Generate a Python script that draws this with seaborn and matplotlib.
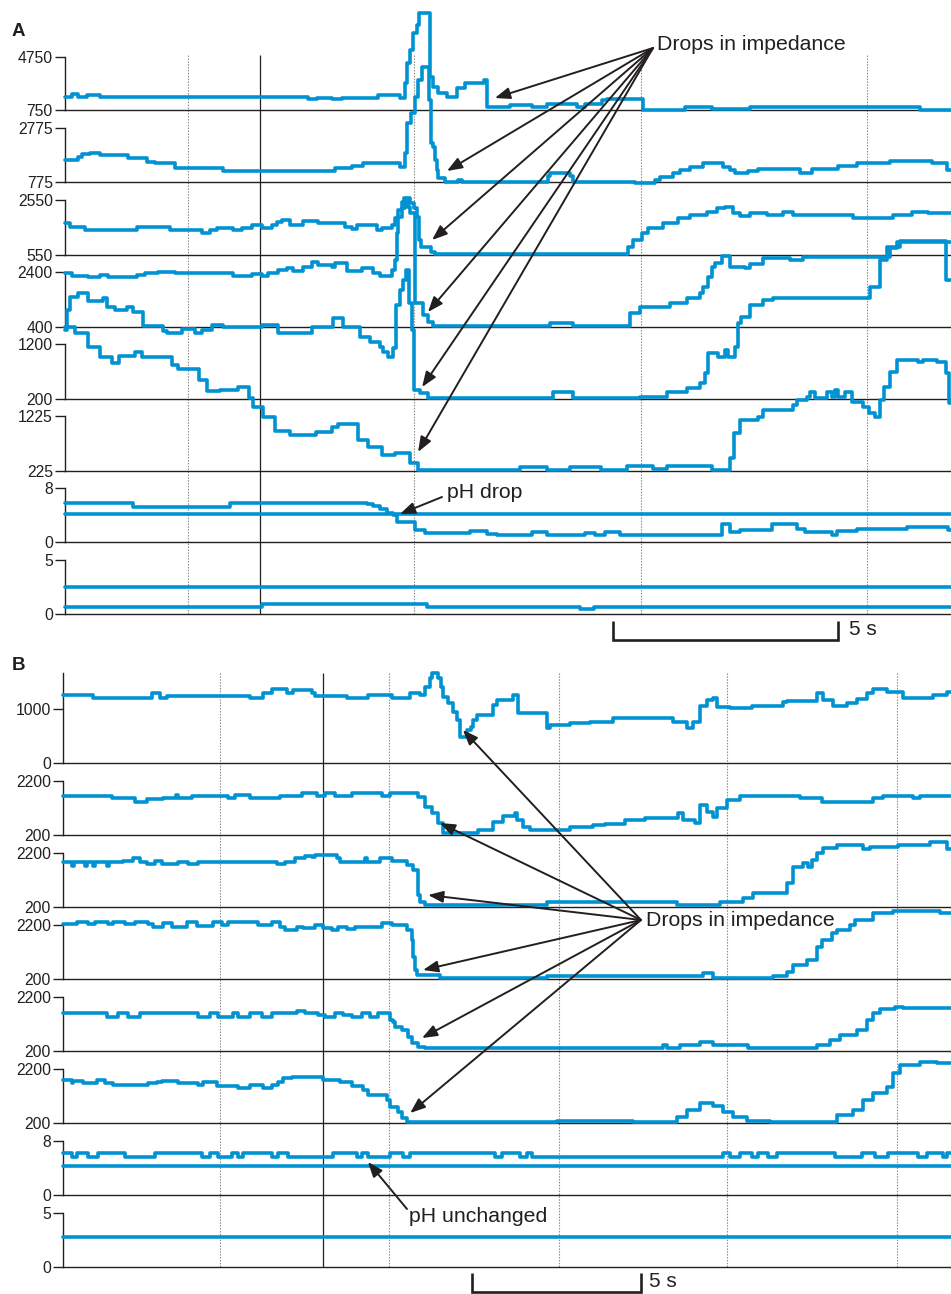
import matplotlib
matplotlib.use("Agg")
import matplotlib.pyplot as plt
import seaborn as sns
import pandas as pd

# ------------------------------------------------------------------
# DATA  (time in s, impedance in ohm, pH)
# ------------------------------------------------------------------
# Panel A
A1 = [(0,1730),(0.15,1960),(0.29,1730),(0.49,1880),(0.77,1730),(5.38,1580),(5.58,1660),(5.91,1580),
      (6.13,1660),(6.92,1880),(7.41,1660),(7.52,2790),(7.57,4300),(7.63,5280),(7.70,6560),(7.79,7170),
      (7.83,8070),(8.08,3240),(8.14,2490),(8.25,2030),(8.45,1730),(8.67,2410),(8.85,2790),(9.27,3020),
      (9.34,980),(9.85,1130),(10.33,980),(10.66,1200),(11.33,980),(11.5,1200),(11.88,1500),(11.99,1580),
      (12.79,750),(13.72,980),(14.31,830),(15.15,980),(18.92,750),(19.6,750)]
A2 = [(0,1590),(0.29,1700),(0.38,1810),(0.55,1850),(0.77,1770),(1.39,1660),(1.81,1520),(1.99,1480),
      (2.43,1290),(3.5,1180),(5.97,1290),(6.35,1370),(6.59,1480),(7.41,1330),(7.52,1850),(7.57,2960),
      (7.65,3330),(7.74,3920),(7.81,4550),(7.90,5030),(8.05,3810),(8.10,2220),(8.14,2070),(8.19,1590),
      (8.23,1220),(8.25,920),(8.41,790),(8.69,850),(8.78,790),(10.69,1000),(10.73,1110),(11.17,1000),
      (11.24,790),(12.61,720),(13.05,850),(13.16,960),(13.45,1110),(13.61,1220),(13.83,1330),(14.12,1480),
      (14.56,1330),(14.71,1220),(14.82,1110),(15.11,1180),(15.33,1260),(16.26,1110),(16.53,1260),
      (17.1,1370),(17.52,1480),(18.25,1550),(19.18,1480),(19.51,1220),(19.6,1220)]
A3 = [(0,1715),(0.11,1570),(0.44,1460),(1.59,1570),(2.32,1460),(3.03,1350),(3.21,1460),(3.36,1530),
      (3.72,1460),(3.92,1530),(4.14,1640),(4.36,1530),(4.58,1640),(4.69,1750),(4.8,1820),(4.98,1640),
      (5.27,1790),(5.6,1715),(6.19,1570),(6.35,1500),(6.46,1640),(6.9,1460),(7.01,1530),(7.23,1640),
      (7.3,1900),(7.37,2190),(7.46,2480),(7.5,2625),(7.63,2440),(7.72,2260),(7.79,1930),(7.83,1100),
      (7.88,840),(8.1,660),(8.19,570),(12.46,840),(12.57,1100),(12.77,1350),(12.9,1530),(13.23,1715),
      (13.56,1900),(13.83,2006),(14.2,2115),(14.42,2260),(14.6,2300),(14.78,2080),(14.93,1970),
      (15.15,2080),(15.53,2006),(15.88,2115),(16.11,2006),(17.43,1900),(18.32,2006),(18.74,2115),
      (19.09,2080),(19.6,2080)]
A4 = [(0,2366),(0.15,2256),(0.51,2220),(0.77,2293),(0.95,2220),(1.59,2293),(1.77,2366),(2.06,2402),
      (2.43,2366),(3.72,2256),(4.14,2329),(4.36,2256),(4.49,2366),(4.71,2475),(4.91,2548),(5.04,2438),
      (5.27,2584),(5.46,2766),(5.6,2657),(5.91,2584),(5.97,2730),(6.24,2438),(6.57,2548),(6.81,2366),
      (6.97,2256),(7.23,2475),(7.3,2839),(7.35,3822),(7.37,4404),(7.46,4732),(7.52,5023),(7.59,4768),
      (7.63,4550),(7.75,1274),(7.92,837),(8.03,582),(8.14,420),(10.73,546),(11.24,420),(12.5,910),
      (12.72,1128),(13.38,1274),(13.76,1456),(14.05,1638),(14.12,1856),(14.23,2220),(14.31,2584),
      (14.38,2730),(14.54,2990),(14.71,2584),(15.04,2548),(15.15,2693),(15.44,2912),(16.04,2839),
      (16.33,2948),(18.25,3276),(18.41,3494),(19.6,3494)]
A5 = [(0,1456),(0.04,1820),(0.11,2056),(0.29,2129),(0.51,1984),(0.84,2038),(0.93,1874),(1.11,1820),
      (1.37,1874),(1.5,1783),(1.73,1529),(2.17,1438),(2.26,1401),(2.59,1474),(2.88,1401),(3.03,1456),
      (3.25,1547),(3.5,1510),(4.36,1547),(4.71,1401),(5.46,1510),(5.93,1674),(6.15,1510),(6.53,1328),
      (6.75,1237),(6.97,1146),(7.04,1055),(7.15,964),(7.26,1128),(7.32,1911),(7.41,2184),(7.48,2366),
      (7.54,2548),(7.61,1947),(7.68,1456),(7.72,364),(7.85,309),(8.03,218),(8.14,215),(10.8,327),
      (11.24,215),(12.72,236),(13.32,327),(13.76,400),(14.05,491),(14.16,673),(14.23,1037),(14.45,964),
      (14.6,1092),(14.67,964),(14.82,1146),(14.89,1583),(14.96,1692),(15.15,1911),(15.44,2002),
      (15.66,2038),(17.81,2238),(18.03,2730),(18.19,2966),(18.47,3076),(19.49,2366),(19.6,2366)]
A6 = [(0,2846),(0.22,2737),(0.51,2482),(0.77,2300),(1.04,2191),(1.19,2318),(1.55,2391),(1.7,2300),
      (2.37,2154),(2.5,2081),(2.96,1881),(3.14,1681),(3.43,1699),(3.83,1754),(4.07,1554),(4.16,1390),
      (4.38,1208),(4.65,953),(4.98,880),(5.55,935),(5.91,1026),(6.04,1080),(6.48,789),(6.7,662),
      (7.01,516),(7.3,553),(7.63,371),(7.81,235),(8.41,243),(10.07,298),(10.66,243),(11.17,298),
      (11.86,243),(12.43,316),(13.01,261),(13.32,316),(14.31,243),(14.71,462),(14.8,917),(14.93,1153),
      (15.33,1208),(15.44,1335),(16.11,1426),(16.19,1517),(16.42,1572),(16.48,1663),(16.59,1554),
      (16.86,1663),(16.97,1572),(17.04,1699),(17.1,1572),(17.26,1663),(17.41,1481),(17.65,1390),
      (17.79,1281),(17.92,1208),(18.03,1517),(18.12,1754),(18.25,2027),(18.41,2245),(18.87,2209),
      (18.98,2245),(19.29,2209),(19.49,2009),(19.56,1463),(19.6,1463)]
A7_ph1 = [(0,5.78),(1.5,5.19),(3.65,5.78),(6.68,5.6),(6.81,5.3),(6.97,4.9),(7.12,4.3),(7.26,4.0),
          (7.35,2.96),(7.74,1.78),(7.96,1.33),(8.96,1.63),(9.34,1.19),(9.56,1.04),(10.33,1.48),
          (10.66,1.04),(11.5,1.33),(11.73,1.04),(11.95,1.48),(12.28,1.04),(14.54,2.67),(14.71,1.48),
          (14.93,1.78),(15.64,2.67),(16.19,1.93),(16.37,1.48),(16.97,1.04),(17.08,1.63),(17.52,1.93),
          (18.63,2.22),(19.54,1.78),(19.6,1.78)]
A7_ph2 = [(0,4.15),(19.6,4.15)]
A8_1 = [(0,2.5),(19.6,2.5)]
A8_2 = [(0,0.65),(4.36,0.9),(8.0,0.65),(11.4,0.5),(11.7,0.65),(19.6,0.65)]

# Panel B
B1 = [(0,1260),(0.89,1200),(2.63,1300),(2.87,1200),(3.08,1240),(5.53,1200),(5.92,1300),(6.18,1370),
      (6.63,1300),(6.8,1350),(7.37,1300),(7.46,1240),(8.4,1200),(9.02,1260),(9.73,1200),(10.27,1300),
      (10.56,1260),(10.71,1400),(10.86,1570),(10.92,1665),(11.09,1570),(11.18,1400),(11.24,1220),
      (11.39,1110),(11.54,940),(11.66,800),(11.75,480),(11.95,610),(12.07,670),(12.13,800),(12.25,890),
      (12.72,1070),(12.84,1170),(13.31,1260),(13.46,930),(14.32,650),(14.41,700),(15.0,740),(15.59,760),
      (16.27,830),(18.05,760),(18.46,650),(18.64,760),(18.85,1050),(19.05,1170),(19.23,1200),
      (19.35,1040),(19.73,1020),(20.38,1050),(21.3,1130),(21.42,1150),(22.31,1300),(22.49,1170),
      (22.78,1050),(23.2,1110),(23.49,1180),(23.79,1300),(23.96,1370),(24.38,1310),(24.85,1200),
      (25.74,1260),(26.15,1310),(26.27,1310)]
B2 = [(0,1643),(1.45,1569),(2.13,1421),(2.49,1532),(2.96,1569),(3.34,1680),(3.4,1569),(3.82,1643),
      (4.88,1569),(5.09,1680),(5.53,1569),(6.42,1643),(7.07,1754),(7.51,1643),(7.75,1754),(8.05,1643),
      (8.55,1754),(9.44,1643),(9.67,1754),(10.5,1610),(10.71,1240),(10.92,1014),(11.09,644),(11.24,260),
      (12.28,385),(12.72,681),(13.02,903),(13.37,1014),(13.43,755),(13.61,496),(13.82,385),(15.0,496),
      (15.68,570),(16.04,607),(16.63,755),(17.22,829),(18.2,1014),(18.34,755),(18.7,644),(18.85,1310),
      (19.05,1051),(19.23,866),(19.35,1199),(19.64,1495),(20.03,1643),(21.8,1569),(22.46,1421),
      (23.96,1569),(24.26,1643),(25.15,1569),(25.36,1643),(26.27,1643)]
B3 = [(0,1865),(0.27,1717),(0.33,1865),(0.65,1717),(0.71,1865),(0.89,1717),(0.95,1865),(1.3,1717),
      (1.36,1865),(1.78,1902),(2.07,2013),(2.28,1865),(2.49,1791),(2.72,1902),(2.93,1791),(3.4,1865),
      (3.7,1791),(3.99,1865),(6.33,1791),(6.57,1865),(6.86,2013),(7.16,2087),(7.37,2050),(7.46,2124),
      (8.11,2013),(8.2,1865),(8.93,2013),(8.99,1865),(9.38,2013),(9.73,1902),(10.18,1754),(10.36,1569),
      (10.5,644),(10.56,385),(10.71,274),(14.32,385),(18.17,274),(19.44,385),(20.12,533),(20.41,718),
      (21.42,1088),(21.6,1680),(21.89,1828),(22.04,1680),(22.16,1939),(22.31,2198),(22.49,2383),
      (22.9,2494),(23.67,2346),(23.88,2420),(24.7,2494),(25.65,2605),(26.15,2346),(26.27,2346)]
B4 = [(0,2235),(0.41,2309),(0.74,2235),(0.95,2309),(1.33,2235),(1.48,2309),(1.83,2235),(2.13,2309),
      (2.51,2235),(2.66,2124),(2.96,2272),(3.22,2124),(3.67,2309),(3.96,2161),(4.44,2309),(4.7,2198),
      (4.88,2309),(5.77,2198),(6.18,2309),(6.42,2124),(6.57,2013),(6.92,2124),(7.1,2087),(7.46,2198),
      (7.69,2087),(7.96,2013),(8.14,2124),(8.4,2050),(8.64,2124),(9.44,2272),(9.73,2198),(10.18,2013),
      (10.33,1643),(10.36,1014),(10.41,533),(10.47,348),(11.15,237),(14.32,311),(18.93,422),(19.23,237),
      (21.0,311),(21.42,459),(21.6,718),(22.01,903),(22.31,1384),(22.46,1643),(22.75,1902),(22.9,2013),
      (23.28,2198),(23.43,2383),(23.96,2642),(24.56,2716),(25.95,2642),(26.27,2642)]
B5 = [(0,1606),(1.3,1458),(1.63,1606),(1.92,1458),(2.28,1606),(3.99,1458),(4.35,1606),(4.59,1458),
      (5.03,1606),(5.18,1458),(5.53,1606),(5.89,1458),(6.18,1606),(6.92,1680),(7.16,1606),(7.54,1532),
      (7.75,1458),(8.05,1606),(8.28,1532),(8.55,1458),(8.85,1606),(9.08,1458),(9.32,1606),(9.67,1347),
      (9.76,1273),(9.82,1088),(10.03,977),(10.21,718),(10.33,496),(10.5,348),(10.71,311),(17.75,422),
      (17.87,311),(18.25,422),(18.85,533),(19.23,422),(20.27,311),(22.31,422),(22.69,607),(22.99,792),
      (23.49,977),(23.79,1347),(23.96,1606),(24.17,1754),(24.62,1828),(24.85,1791),(26.27,1791)]
B6 = [(0,1791),(0.27,1680),(0.3,1754),(0.59,1680),(1.01,1791),(1.24,1680),(1.48,1606),(2.51,1680),
      (2.78,1717),(2.93,1754),(3.4,1680),(3.99,1606),(4.14,1717),(4.56,1569),(5.18,1495),(5.53,1606),
      (5.92,1495),(6.18,1606),(6.36,1717),(6.51,1865),(6.78,1902),(7.69,1791),(8.2,1717),(8.55,1569),
      (8.88,1421),(9.02,1236),(9.59,1051),(9.67,792),(9.91,607),(10.03,385),(10.18,237),(14.62,274),
      (16.86,220),(18.17,422),(18.46,681),(18.85,940),(19.23,829),(19.53,607),(19.82,422),(20.24,274),
      (20.92,220),(22.9,496),(23.37,681),(23.67,1051),(23.96,1310),(24.38,1532),(24.56,2050),
      (24.76,2346),(25.36,2457),(25.86,2420),(26.27,2420)]
B7_ph1 = [(0,6.2),(0.27,5.65),(0.41,6.2),(0.74,5.65),(1.04,6.2),(1.83,5.65),(2.72,6.2),(4.11,5.65),
          (4.35,6.2),(4.59,5.65),(5.0,6.2),(5.18,5.65),(5.33,6.2),(6.18,5.65),(6.36,6.2),(6.66,5.65),
          (7.99,6.2),(8.7,5.65),(8.85,6.2),(9.02,5.65),(9.67,6.2),(10.06,5.65),(10.27,6.2),(12.78,5.65),
          (12.99,6.2),(13.52,5.65),(13.73,6.2),(13.88,5.65),(19.53,6.2),(19.73,5.65),(20.03,6.2),
          (20.38,5.65),(20.56,6.2),(20.86,5.65),(21.12,6.2),(22.84,5.65),(23.64,6.2),(24.02,5.65),
          (24.41,6.2),(25.3,5.65),(25.56,6.2),(26.04,5.65),(26.15,6.2),(26.27,6.2)]
B7_ph2 = [(0,4.3),(26.27,4.3)]
B8_1 = [(0,2.78),(26.27,2.78)]

A_TICKS = [(750,4750),(775,2775),(550,2550),(400,2400),(200,1200),(225,1225),(0,8),(0,5)]
B_TICKS = [(0,1000),(200,2200),(200,2200),(200,2200),(200,2200),(200,2200),(0,8),(0,5)]

# ------------------------------------------------------------------
# STYLE / LAYOUT
# ------------------------------------------------------------------
W, H, DPI = 951, 1294, 100
BLUE = "#0092D2"
INK = "#231F20"
LW = 2.6
SPW = 1.0

sns.set_style("white")
plt.rcParams['font.family'] = ['Liberation Sans', 'DejaVu Sans']

fig = plt.figure(figsize=(W / DPI, H / DPI), dpi=DPI)


def rect(x0, y_top, x1, y_bot):
    return [x0 / W, 1 - y_bot / H, (x1 - x0) / W, (y_bot - y_top) / H]


def ff(x, y):
    return (x / W, 1 - y / H)


def guide_axes(x0, y_top, y_bot_total, xlim, dotted, solid, y_line_bot, bar, bar_y):
    g = fig.add_axes(rect(x0, y_top, W, y_bot_total))
    g.set_xlim(*xlim)
    g.set_ylim(y_bot_total, y_top)
    g.axis("off")
    g.vlines(dotted, y_top, y_line_bot, colors="#8a8a8a", linewidth=0.8,
             linestyles=(0, (1.3, 1.3)), zorder=0)
    g.vlines([solid], y_top, y_line_bot, colors=INK, linewidth=0.9, zorder=0)
    b0, b1 = bar
    yt, yb = bar_y
    g.plot([b0, b0, b1, b1], [yt, yb, yb, yt], color=INK, lw=1.9, clip_on=False,
           solid_joinstyle="miter", solid_capstyle="butt")
    g.text(b1 + 0.25, (yt + yb) / 2 - 1, "5 s", fontsize=15, color=INK, va="center", ha="left")
    return g


def strip(x0, y_top, y_bot, xlim, ylim, ticks, series, top=None):
    ax = fig.add_axes(rect(x0, y_top if top is None else top, W, y_bot))
    for s in series:
        df = pd.DataFrame(s, columns=["t", "v"])
        sns.lineplot(data=df, x="t", y="v", ax=ax, color=BLUE, linewidth=LW,
                     drawstyle="steps-post", clip_on=False, estimator=None,
                     sort=False, legend=False, zorder=3)
    ax.set_xlim(*xlim)
    ax.set_ylim(*ylim)
    ax.set_yticks(list(ticks))
    ax.set_yticklabels([str(t) for t in ticks])
    ax.set_xticks([])
    ax.set_xlabel("")
    ax.set_ylabel("")
    ax.patch.set_alpha(0)
    for sp in ["top", "right"]:
        ax.spines[sp].set_visible(False)
    for sp in ["left", "bottom"]:
        ax.spines[sp].set_linewidth(SPW)
        ax.spines[sp].set_color(INK)
        ax.spines[sp].set_zorder(2)
    ax.tick_params(axis="y", direction="out", length=7.2, width=SPW, color=INK,
                   labelsize=11.3, labelcolor=INK, pad=1.5, left=True)
    return ax


# ---------------- Panel A ----------------
XA = (0, 19.6)
guide_axes(65, 55, 645, XA, [2.72, 7.72, 12.74, 17.74], 4.31, 614, (12.12, 17.1), (621, 640))
A_pos = [(57, 110), (128, 182), (200, 255), (272, 327), (344, 399), (416, 471), (488, 542), (560, 614)]
A_series = [[A1], [A2], [A3], [A4], [A5], [A6], [A7_ph1, A7_ph2], [A8_1, A8_2]]
axA = []
for (yt, yb), tk, ser in zip(A_pos, A_TICKS, A_series):
    axA.append(strip(65, yt, yb, XA, tk, tk, ser))

# ---------------- Panel B ----------------
XB = (0, 26.27)
guide_axes(63, 673, 1294, XB, [4.64, 9.64, 14.67, 19.64, 24.67], 7.69, 1267, (12.1, 17.1), (1273, 1292))
B_pos = [(709, 763), (781, 835), (853, 907), (925, 979), (997, 1051), (1069, 1123), (1141, 1195), (1213, 1267)]
B_series = [[B1], [B2], [B3], [B4], [B5], [B6], [B7_ph1, B7_ph2], [B8_1]]
axB = []
for i, ((yt, yb), tk, ser) in enumerate(zip(B_pos, B_TICKS, B_series)):
    if i == 0:
        axB.append(strip(63, yt, yb, XB, (0, 1665), tk, ser, top=673))
    else:
        axB.append(strip(63, yt, yb, XB, tk, tk, ser))

# ---------------- Annotations (top layer) ----------------
top = fig.add_axes([0, 0, 1, 1])
top.axis("off")
top.set_xlim(0, 1)
top.set_ylim(0, 1)

AP = dict(arrowstyle="-|>,head_length=0.65,head_width=0.25", color=INK, lw=1.4,
          shrinkA=0, shrinkB=0, mutation_scale=14)

top.text(*ff(12, 32), "A", fontsize=13.5, fontweight="bold", color=INK, va="center", ha="left")
top.text(*ff(12, 665), "B", fontsize=13.5, fontweight="bold", color=INK, va="center", ha="left")

# Panel A drops
top.text(*ff(657, 45), "Drops in impedance", fontsize=15.3, color=INK, va="center", ha="left")
tipsA = [(0, 9.51, 1656), (1, 8.45, 1182), (2, 8.12, 1096), (3, 8.03, 946), (4, 7.9, 418), (5, 7.81, 571)]
for i, t, v in tipsA:
    top.annotate("", xy=(t, v), xycoords=axA[i].transData, xytext=ff(653, 48),
                 textcoords="figure fraction", arrowprops=AP)
top.text(*ff(447, 493), "pH drop", fontsize=15.3, color=INK, va="center", ha="left")
top.annotate("", xy=(7.41, 4.15), xycoords=axA[6].transData, xytext=ff(442, 497),
             textcoords="figure fraction", arrowprops=AP)

# Panel B drops
top.text(*ff(646, 920), "Drops in impedance", fontsize=15.3, color=INK, va="center", ha="left")
tipsB = [(0, 11.83, 611), (1, 11.15, 644), (2, 10.8, 644), (3, 10.65, 533), (4, 10.62, 681), (5, 10.27, 570)]
for i, t, v in tipsB:
    top.annotate("", xy=(t, v), xycoords=axB[i].transData, xytext=ff(641, 920),
                 textcoords="figure fraction", arrowprops=AP)
top.text(*ff(409, 1217), "pH unchanged", fontsize=15.3, color=INK, va="center", ha="left")
top.annotate("", xy=(9.02, 4.9), xycoords=axB[6].transData, xytext=ff(407, 1209),
             textcoords="figure fraction", arrowprops=AP)

fig.savefig("out.png", dpi=DPI)
